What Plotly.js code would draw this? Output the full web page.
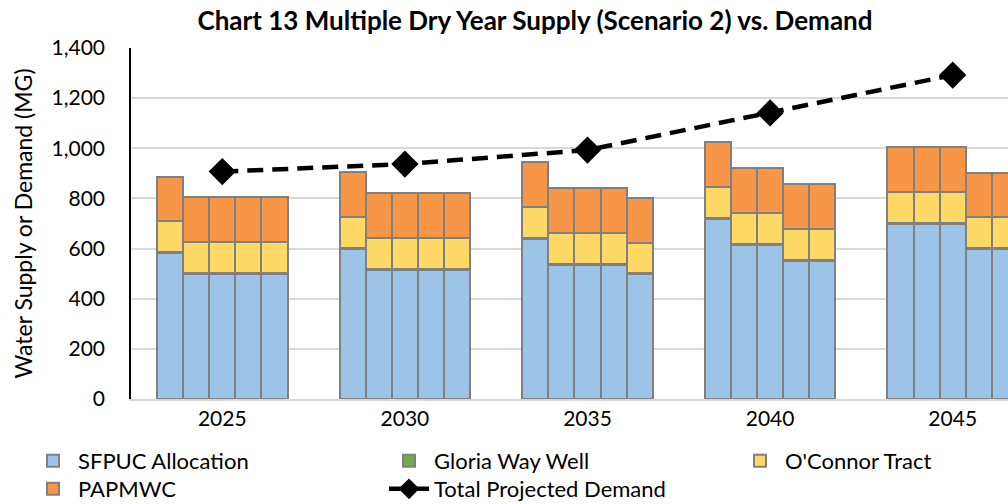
<!DOCTYPE html>
<html>
<head>
<meta charset="utf-8">
<script src="https://cdn.plot.ly/plotly-3.0.1.min.js"></script>
<style>
html, body { margin: 0; padding: 0; overflow: hidden; background: #fff; }
#chart { width: 1060px; height: 504px; }
</style>
</head>
<body>
<div id="chart"></div>
<script>
// ---- Data (MG) ----
const years = ['2025', '2030', '2035', '2040', '2045'];
const dryYearsPerGroup = 5;
// values per bar: 5 groups x 5 dry years
const sfpuc   = [581, 499, 499, 499, 499,  599, 514, 514, 514, 514,  639, 534, 534, 534, 497,  718, 615, 615, 550, 550,  700, 700, 700, 597, 597];
const gloria  = [4, 4, 4, 4, 4,  4, 4, 4, 4, 4,  4, 4, 4, 4, 4,  4, 4, 4, 4, 4,  4, 4, 4, 4, 4];
const oconnor = [123, 123, 123, 123, 123,  123, 123, 123, 123, 123,  123, 123, 123, 123, 123,  123, 123, 123, 123, 123,  123, 123, 123, 123, 123];
const papmwc  = [179, 179, 179, 179, 179,  179, 179, 179, 179, 179,  179, 179, 179, 179, 179,  179, 179, 179, 179, 179,  179, 179, 179, 179, 179];
const demand  = [907, 937, 993, 1141, 1292];
const yTitle = 'Water Supply or Demand (MG)';

// ---- positions derived from group/dry-year index ----
const barW = 0.143;
const xPos = [];
for (let g = 0; g < years.length; g++) {
  for (let j = 0; j < dryYearsPerGroup; j++) {
    xPos.push(g + (j - (dryYearsPerGroup - 1) / 2) * barW);
  }
}
const groupX = years.map((_, i) => i);

const FONT = 'Lato, "Open Sans", sans-serif';
const edge = { color: '#808080', width: 2 };

function barTrace(name, y, color, legend) {
  return {
    type: 'bar', name: name, x: xPos, y: y, width: barW,
    marker: { color: color, line: edge },
    legend: legend, hoverinfo: 'y+name'
  };
}

const data = [
  barTrace('SFPUC Allocation', sfpuc, '#9dc3e6', 'legend'),
  barTrace('Gloria Way Well', gloria, '#70ad47', 'legend2'),
  barTrace("O'Connor Tract", oconnor, '#ffd966', 'legend3'),
  barTrace('PAPMWC', papmwc, '#f79646', 'legend4'),
  {
    type: 'scatter', mode: 'lines+markers', name: 'Total Projected Demand',
    x: groupX, y: demand,
    line: { color: '#000', width: 4.5, dash: '16px,9px' },
    marker: { symbol: 'diamond', size: 21, color: '#000' },
    legend: 'legend5'
  }
];

const W = 1060, H = 504;
const ML = 131, MR = 16, MT = 48, MB = 105;
const plotW = W - ML - MR;
function leg(textX, rowY) {
  return {
    xref: 'container', yref: 'container',
    x: (textX - 51) / W, y: 1 - rowY / H,
    xanchor: 'left', yanchor: 'middle',
    orientation: 'v', traceorder: 'normal',
    font: { family: FONT, size: 22, color: '#000' },
    bgcolor: 'rgba(0,0,0,0)', itemwidth: 40
  };
}

const layout = {
  width: W, height: H,
  margin: { l: ML, r: MR, t: MT, b: MB, autoexpand: false },
  paper_bgcolor: '#fff', plot_bgcolor: '#fff',
  font: { family: FONT, color: '#000' },
  barmode: 'stack',
  showlegend: true,
  title: {
    text: '<b>Chart 13 Multiple Dry Year Supply (Scenario 2) vs. Demand</b>',
    font: { family: FONT, size: 26, color: '#000' },
    xref: 'container', yref: 'container',
    x: 535 / W, xanchor: 'center',
    y: 1 - 21 / H, yanchor: 'middle'
  },
  xaxis: {
    range: [-0.5, 4.5],
    tickmode: 'array', tickvals: groupX, ticktext: years,
    showgrid: false, zeroline: false,
    showline: true, linecolor: '#d9d9d9', linewidth: 1.5,
    ticks: '', tickangle: 0,
    tickfont: { family: FONT, size: 21, color: '#000' }
  },
  yaxis: {
    range: [0, 1400], dtick: 200, tickformat: ',d',
    showgrid: true, gridcolor: '#d9d9d9', gridwidth: 1.5,
    zeroline: false, showline: true, linecolor: '#000', linewidth: 1.5,
    ticks: '', ticklabelstandoff: 20,
    tickfont: { family: FONT, size: 21, color: '#000' }
  },
  annotations: [{
    text: yTitle, textangle: -90,
    xref: 'paper', yref: 'paper',
    x: (22 - ML) / plotW, y: 0.5,
    xanchor: 'center', yanchor: 'middle',
    showarrow: false,
    font: { family: FONT, size: 23, color: '#000' }
  }],
  legend:  leg(79, 461),
  legend2: leg(435, 461),
  legend3: leg(786, 461),
  legend4: leg(79, 489),
  legend5: leg(435, 489)
};

Plotly.newPlot('chart', data, layout, { displayModeBar: false, responsive: false });
</script>
</body>
</html>
